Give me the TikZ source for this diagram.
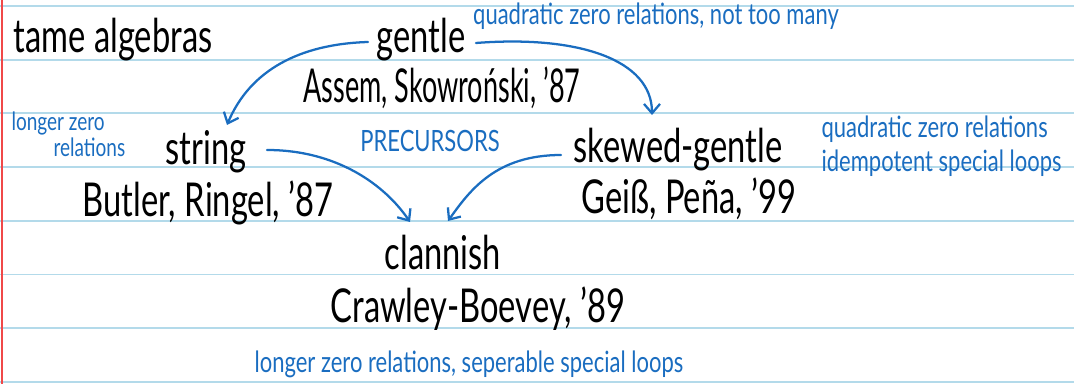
\documentclass[tikz,border=0pt]{standalone}
\usepackage{fontspec}
\setmainfont{Lato}
\newfontfamily\handfont[FakeStretch=0.7]{Lato}
\newfontfamily\tighthandfont[FakeStretch=0.58]{Lato}
\newfontfamily\notefont[FakeStretch=0.75]{Lato}
\usetikzlibrary{arrows.meta,calc}
\definecolor{inkblue}{HTML}{1A6DC0}
\definecolor{ruleblue}{HTML}{B3DAEA}
\definecolor{marginred}{HTML}{F04848}
\tikzset{
    hand/.style={
        font=\handfont\fontsize{35}{40}\selectfont, anchor=base, inner sep=1pt
    },
    tighthand/.style={
        hand, font=\tighthandfont\fontsize{35}{40}\selectfont
    },
    note/.style={
        font=\notefont\fontsize{22}{26}\selectfont, color=inkblue, anchor=base, inner sep=1pt
    },
    smallnote/.style={
        note, font=\notefont\fontsize{19}{22}\selectfont, anchor=base west
    },
    link/.style={
        -{Straight Barb[length=7pt,width=12pt]}, color=inkblue, line width=1.7pt
    }
}

\begin{document}
\begin{tikzpicture}[x=0.75pt,y=-0.75pt, line cap=round, line join=round]

\useasboundingbox (0,0) rectangle (1074,384);

% ruled paper
\foreach \k in {0,...,7} {
  \draw[ruleblue, line width=1.4pt] (0,6+53.7*\k) -- (1074,6+53.7*\k);
}
\draw[marginred, line width=1.6pt] (2,0) -- (2,384);

% algebras
\node[hand] (tame) at (113,53) {tame algebras};
\node[hand] (gentle) at (421,53) {gentle};
\node[tighthand] (gentleref) at (442,103) {Assem, Skowroński, ’87};
\node[hand] (string) at (206,165) {string};
\node[hand] (stringref) at (208,217) {Butler, Ringel, ’87};
\node[hand] (skewed) at (678,163) {skewed-gentle};
\node[hand] (skewedref) at (689,214) {Geiß, Peña, ’99};
\node[hand] (clannish) at (443,270) {clannish};
\node[hand] (clannishref) at (478,323) {Crawley-Boevey, ’89};

% notes
\node[note] (gentlenote) at (656,25) {quadratic zero relations, not too many};
\node[smallnote] (stringnote1) at (10,131) {longer zero};
\node[smallnote] (stringnote2) at (52,157) {relations};
\node[note] (precursors) at (430,152) {PRECURSORS};
\node[note, anchor=base west] (skewednote1) at (820,138) {quadratic zero relations};
\node[note, anchor=base west] (skewednote2) at (820,172) {idempotent special loops};
\node[note] (clannishnote) at (469,373) {longer zero relations, seperable special loops};

% arrows
\draw[link] ($(gentle.base west)+(-7,-11)$) .. controls +(-68,2) and +(23,-55) .. ($(string.base)+(21,-40)$);
\draw[link] ($(gentle.base east)+(9,-10)$) .. controls +(103,-8) and +(0,-55) .. ($(skewed.base)+(-26,-48)$);
\draw[link] ($(string.base east)+(19,-15)$) .. controls +(70,0) and +(-25,-37) .. ($(clannish.base)+(-33,-48)$);
\draw[link] ($(skewed.base west)+(-11,-8)$) .. controls +(-65,0) and +(22,-31) .. ($(clannish.base)+(5,-49)$);

\end{tikzpicture}
\end{document}
